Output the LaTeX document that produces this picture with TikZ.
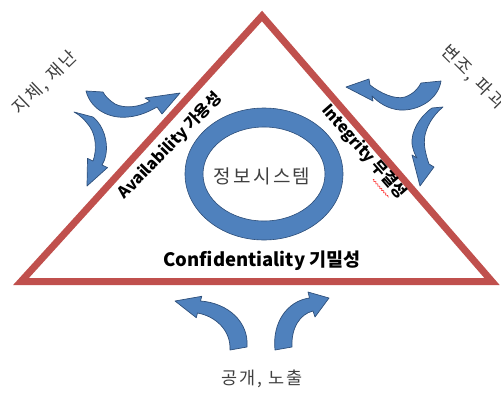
\documentclass[tikz,border=0pt]{standalone}
\usepackage{fontspec}
\setmainfont{Noto Sans CJK KR}
\newfontfamily\kr{Noto Sans CJK KR}
\newfontfamily\krw[LetterSpace=12]{Noto Sans CJK KR}
\usetikzlibrary{calc,decorations.pathmorphing}
\definecolor{tri}{HTML}{C0504D}
\definecolor{ring}{HTML}{4F81BD}
\definecolor{ringdk}{HTML}{2E4F7A}
\definecolor{txt}{HTML}{404040}
\begin{document}
\begin{tikzpicture}[x=1pt,y=-1pt,
  arr/.style={fill=ring, draw=ringdk, line width=0.7pt, line join=round},
  side/.style={font=\kr\bfseries\fontsize{16}{16}\selectfont, text=black, inner sep=0pt},
  threat/.style={font=\krw\fontsize{17.5}{17.5}\selectfont, text=txt, inner sep=0pt}]
\useasboundingbox (0,0) rectangle (501,392);
\clip (0,0) rectangle (501,392);
% triangle
\draw[tri, line width=7pt] (262,16) -- (492,281.5) -- (21,281.5) -- cycle;
% ring
\path[fill=ring, draw=ringdk, line width=0.6pt, even odd rule]
  (264,174) ellipse [x radius=79, y radius=66]
  (264,174) ellipse [x radius=61, y radius=47];
\node[font=\krw\fontsize{19}{19}\selectfont, text=txt, inner sep=0pt] (info) at (262,176) {정보시스템};
% side labels
\node[side, rotate=46] (avail) at (170,146) {Availability 가용성};
\node[side, rotate=-48.8, inner ysep=2.5pt] (integ) at (364,152) {Integrity 무결성};
\draw[red, line width=0.5pt, decorate, decoration={snake, amplitude=0.8pt, segment length=3pt}]
  ($(integ.south west)!0.72!(integ.south east)$) -- ($(integ.south west)!0.92!(integ.south east)$);
\node[side, font=\kr\bfseries\fontsize{18.5}{18.5}\selectfont] (conf) at (262,261) {Confidentiality 기밀성};
% threats
\node[threat, rotate=44] (delay) at (45,83) {지체, 재난};
\node[threat, rotate=-45] (forge) at (473,77) {변조, 파괴};
\node[threat] (leak) at (262,379) {공개, 노출};
% arrow A (left top)
\path[arr] (86,91) .. controls (91,110) and (110,119) .. (128,117)
  .. controls (140,116) and (150,111) .. (157,107) -- (162,114) -- (180,93) -- (145,98) -- (150,101)
  .. controls (140,107) and (125,109) .. (115,104) .. controls (109,100) and (105,96) .. (103,92) -- cycle;
% arrow B (left vertical)
\path[arr] (74,112) -- (93,117) .. controls (104,126) and (108,142) .. (106,154)
  .. controls (105,159) and (104,162) .. (102,165) -- (107.5,167.6) -- (87,186) -- (87.5,158.4) -- (93,161)
  .. controls (97,150) and (96,136) .. (90,127) .. controls (85,120) and (80,115) .. (74,112) -- cycle;
% arrow C (right top)
\path[arr] (441,81) .. controls (438,100) and (418,111) .. (400,110)
  .. controls (388,109) and (379,103) .. (372,96) -- (373,101) -- (346,87) -- (369,79) -- (370,85)
  .. controls (380,93) and (395,100) .. (405,97) .. controls (413,94) and (418,89) .. (421,83) -- cycle;
% arrow D (right vertical)
\path[arr] (432,108) .. controls (419,117) and (411,132) .. (412,144)
  .. controls (413,150) and (415,155) .. (417,158) -- (412,155) -- (420,186) -- (434,167) -- (429,164)
  .. controls (426,155) and (423,145) .. (425,135) .. controls (428,122) and (436,113) .. (443,107) -- cycle;
% arrow E (bottom left)
\path[arr] (230,350) -- (247,347) .. controls (249,322) and (228,303) .. (200.5,301)
  -- (201.7,296.3) -- (175,301) -- (196.3,317.7) -- (197.5,313)
  .. controls (215,316) and (231,330) .. (230,350) -- cycle;
% arrow F (bottom right)
\path[arr] (275,350) .. controls (272,323) and (287,301) .. (309.5,298)
  -- (308,292) -- (329,298) -- (315,317) -- (313,311)
  .. controls (300,314) and (291,328) .. (292,347) -- cycle;
\end{tikzpicture}
\end{document}
